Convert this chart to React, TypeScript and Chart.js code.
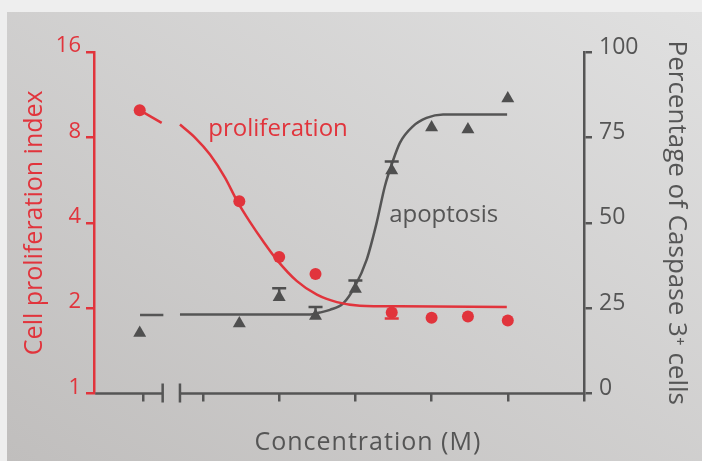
import React, { useEffect, useRef } from 'react';
import { Chart, registerables } from 'chart.js';

Chart.register(...registerables);

const RED = '#e1343c';
const GRAY = '#555555';
const MARK = '#4f4f4f';
const FONT = "'Open Sans', 'DejaVu Sans', sans-serif";

// x = log10 of concentration (M); the first entry is the control, left of the axis break
const doseLog = [-9.83, -8.523, -8, -7.523, -7, -6.523, -6, -5.523, -5];
const proliferation = [9.98, 4.76, 3.03, 2.64, null, 1.93, 1.85, 1.87, 1.81];
const proliferationErrLow = [null, null, null, null, null, 1.84, null, null, null];
const apoptosis = [17.7, 20.5, 28.2, 22.7, 30.6, 65.3, 77.9, 77.3, 86.4];
const apoptosisErrHigh = [null, null, 30.8, 25.3, 33.1, 67.9, null, null, null];

// fitted curves
const prolifFitCtrlX = [-9.826, -9.542];
const prolifFitCtrlY = [9.96, 9.0];
const prolifFitX = [-9.302, -9.105, -8.908, -8.711, -8.55, -8.384, -8.213, -8.03, -7.767, -7.505, -7.243, -6.941, -6.416, -5.013];
const prolifFitY = [8.88, 7.99, 6.96, 5.77, 4.76, 4.03, 3.45, 2.96, 2.49, 2.23, 2.1, 2.04, 2.03, 2.02];

const apopFitCtrlX = [-9.826, -9.52];
const apopFitCtrlY = [23.0, 23.0];
const apopFitX = [-9.302, -7.597, -7.466, -7.334, -7.16, -7.007, -6.853, -6.722, -6.613, -6.517, -6.416, -6.242, -6.066, -5.849, -5.009];
const apopFitY = [23.1, 23.1, 23.7, 24.5, 26.4, 31.3, 39.1, 49.9, 60.7, 67.5, 73.4, 78.3, 80.7, 81.7, 81.7];

const xTicks = [-9.783, -9, -8, -7, -6, -5, -4];
const xBreak = [-9.529, -9.302];
const leftTicks = [1, 2, 4, 8, 16];
const rightTicks = [0, 25, 50, 75, 100];

const pts = (xs: number[], ys: (number | null)[]) => xs.map((x, i) => ({ x, y: ys[i] }));

const decor = {
  id: 'decor',
  afterDraw(chart: any) {
    const { ctx, chartArea, scales } = chart;
    const { x, y, y1 } = scales;
    ctx.save();
    ctx.strokeStyle = GRAY;
    ctx.lineWidth = 2.5;
    const yb = chartArea.bottom;
    const b0 = x.getPixelForValue(xBreak[0]);
    const b1 = x.getPixelForValue(xBreak[1]);
    ctx.beginPath();
    ctx.moveTo(chartArea.left + 1.25, yb);
    ctx.lineTo(b0, yb);
    ctx.moveTo(b1, yb);
    ctx.lineTo(chartArea.right, yb);
    ctx.stroke();
    ctx.beginPath();
    [b0, b1].forEach((p) => {
      ctx.moveTo(p, yb - 10);
      ctx.lineTo(p, yb + 9);
    });
    ctx.stroke();

    // error bars
    const cap = 7;
    ctx.strokeStyle = MARK;
    doseLog.forEach((d, i) => {
      const e = apoptosisErrHigh[i];
      const v = apoptosis[i];
      if (e == null || v == null) return;
      const px = x.getPixelForValue(d);
      const py0 = y1.getPixelForValue(v);
      const py1 = y1.getPixelForValue(e);
      ctx.beginPath();
      ctx.moveTo(px, py0);
      ctx.lineTo(px, py1);
      ctx.moveTo(px - cap, py1);
      ctx.lineTo(px + cap, py1);
      ctx.stroke();
    });
    ctx.strokeStyle = RED;
    doseLog.forEach((d, i) => {
      const e = proliferationErrLow[i];
      const v = proliferation[i];
      if (e == null || v == null) return;
      const px = x.getPixelForValue(d);
      const py0 = y.getPixelForValue(v);
      const py1 = y.getPixelForValue(e);
      ctx.beginPath();
      ctx.moveTo(px, py0);
      ctx.lineTo(px, py1);
      ctx.moveTo(px - cap, py1);
      ctx.lineTo(px + cap, py1);
      ctx.stroke();
    });

    // curve labels
    ctx.textAlign = 'left';
    ctx.textBaseline = 'alphabetic';
    ctx.font = `24px ${FONT}`;
    ctx.fillStyle = RED;
    ctx.fillText('proliferation', x.getPixelForValue(-8.93), y.getPixelForValue(8.07));
    ctx.fillStyle = GRAY;
    ctx.fillText('apoptosis', x.getPixelForValue(-6.557), y1.getPixelForValue(50.3));

    // x axis title
    ctx.font = `25px ${FONT}`;
    (ctx as any).letterSpacing = '1px';
    ctx.textAlign = 'center';
    ctx.fillText('Concentration (M)', x.getPixelForValue(-6.836), yb + 56);
    ctx.restore();
  },
};

export default function App() {
  const ref = useRef<HTMLCanvasElement | null>(null);

  useEffect(() => {
    if (!ref.current) return;
    const lineDs = (data: any[], axis: string, color: string) => ({
      type: 'line',
      data,
      yAxisID: axis,
      borderColor: color,
      borderWidth: 2.5,
      pointRadius: 0,
      fill: false,
      cubicInterpolationMode: 'monotone',
    });
    const chart = new Chart(ref.current, {
      type: 'line',
      data: {
        datasets: [
          {
            label: 'proliferation',
            data: pts(doseLog, proliferation),
            yAxisID: 'y',
            showLine: false,
            pointStyle: 'circle',
            pointRadius: 6,
            pointBackgroundColor: RED,
            pointBorderWidth: 0,
            borderColor: RED,
          },
          {
            label: 'apoptosis',
            data: pts(doseLog, apoptosis),
            yAxisID: 'y1',
            showLine: false,
            pointStyle: 'triangle',
            pointRadius: 7.5,
            pointBackgroundColor: MARK,
            pointBorderWidth: 0,
            borderColor: MARK,
          },
          lineDs(pts(prolifFitCtrlX, prolifFitCtrlY), 'y', RED),
          lineDs(pts(prolifFitX, prolifFitY), 'y', RED),
          lineDs(pts(apopFitCtrlX, apopFitCtrlY), 'y1', GRAY),
          lineDs(pts(apopFitX, apopFitY), 'y1', GRAY),
        ] as any,
      },
      options: {
        animation: false,
        responsive: false,
        devicePixelRatio: 1,
        layout: { padding: { top: 40, left: 0, right: 0, bottom: 0 } },
        plugins: { legend: { display: false }, tooltip: { enabled: false } },
        scales: {
          x: {
            type: 'linear',
            min: -10.43,
            max: -4,
            afterBuildTicks: (s: any) => {
              s.ticks = xTicks.map((v) => ({ value: v }));
            },
            afterFit: (s: any) => {
              s.height = 67.5;
            },
            ticks: { display: false },
            grid: { drawOnChartArea: false, drawTicks: true, tickLength: 8, color: GRAY, lineWidth: 2.5 },
            border: { display: false },
          },
          y: {
            type: 'logarithmic',
            position: 'left',
            min: 1,
            max: 16,
            afterBuildTicks: (s: any) => {
              s.ticks = leftTicks.map((v) => ({ value: v }));
            },
            afterFit: (s: any) => {
              s.width = 87;
            },
            ticks: {
              color: RED,
              font: { family: FONT, size: 22 },
              padding: 5,
              labelOffset: -6,
              callback: (v: any) => String(v),
            },
            grid: { drawOnChartArea: false, drawTicks: true, tickLength: 8, color: RED, lineWidth: 2.5 },
            border: { display: true, color: RED, width: 2.5 },
            title: {
              display: true,
              text: 'Cell proliferation index',
              color: RED,
              font: { family: FONT, size: 25 },
              padding: { top: 13, bottom: 0 },
            },
          },
          y1: {
            type: 'linear',
            position: 'right',
            min: 0,
            max: 100,
            afterBuildTicks: (s: any) => {
              s.ticks = rightTicks.map((v) => ({ value: v }));
            },
            afterFit: (s: any) => {
              s.width = 118;
            },
            ticks: {
              color: GRAY,
              font: { family: FONT, size: 23 },
              padding: 7,
              labelOffset: -5,
            },
            grid: { drawOnChartArea: false, drawTicks: true, tickLength: 8, color: GRAY, lineWidth: 2.5 },
            border: { display: true, color: GRAY, width: 2.5 },
            title: {
              display: true,
              text: 'Percentage of Caspase 3\u207A cells',
              color: GRAY,
              font: { family: FONT, size: 26 },
              padding: { top: 10, bottom: 0 },
            },
          },
        },
      } as any,
      plugins: [decor],
    });
    return () => chart.destroy();
  }, []);

  return (
    <div
      style={{
        position: 'fixed',
        left: 0,
        top: 0,
        width: 702,
        height: 461,
        background: '#eeeeee',
        overflow: 'hidden',
      }}
    >
      <canvas
        ref={ref}
        width={695}
        height={449}
        style={{
          position: 'absolute',
          left: 7,
          top: 12,
          width: 695,
          height: 449,
          background: 'linear-gradient(to top right, #c0bebd, #e0e0e0)',
        }}
      />
    </div>
  );
}
